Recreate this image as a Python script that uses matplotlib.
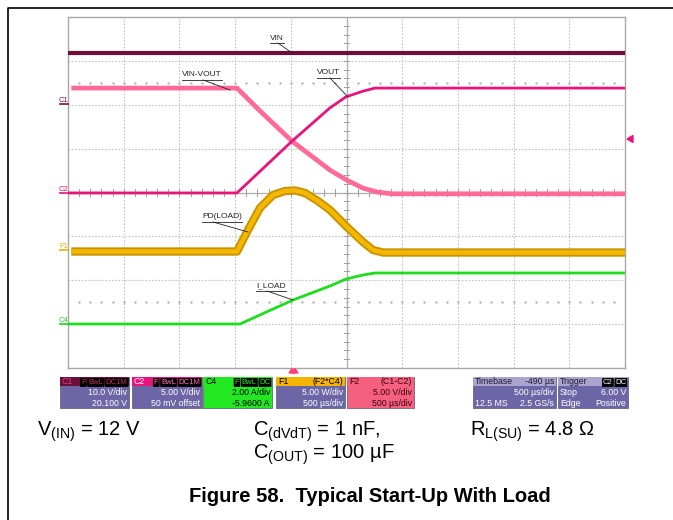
import matplotlib.pyplot as plt
from matplotlib.patches import Rectangle, Polygon

plt.rcParams['font.family'] = ['Liberation Sans', 'DejaVu Sans']
plt.rcParams['mathtext.fontset'] = 'custom'
plt.rcParams['mathtext.rm'] = 'Liberation Sans'
plt.rcParams['mathtext.it'] = 'Liberation Sans:italic'
plt.rcParams['mathtext.bf'] = 'Liberation Sans:bold'

# scope settings
time_per_div = 0.5   # ms / div
trig_div = 4.04      # trigger position, divisions from left edge
n_xdiv, n_ydiv = 10, 8

# traces: time in ms (0 = trigger), level in screen divisions from bottom
vin_t = [-2.02, 2.98]
vin_y = [7.18, 7.18]

vdiff_t = [-1.99, -0.503, -0.297, -0.009, 0.332, 0.484, 0.628, 0.754, 0.888, 2.98]
vdiff_y = [6.38, 6.38, 5.86, 5.17, 4.51, 4.28, 4.10, 4.01, 3.97, 3.97]

vout_t = [-2.02, -0.503, -0.009, 0.332, 0.476, 0.628, 0.736, 2.98]
vout_y = [3.99, 3.99, 5.17, 5.93, 6.18, 6.31, 6.38, 6.38]

pd_t = [-1.99, -0.503, -0.404, -0.297, -0.18, -0.072, 0.018, 0.107, 0.224,
        0.332, 0.484, 0.628, 0.718, 0.808, 2.98]
pd_y = [2.655, 2.655, 3.145, 3.647, 3.943, 4.034, 4.046, 3.989, 3.806,
        3.60, 3.214, 2.872, 2.689, 2.632, 2.632]

iload_t = [-2.02, -0.476, 0.0, 0.332, 0.476, 0.628, 0.736, 2.98]
iload_y = [1.003, 1.003, 1.55, 1.869, 2.028, 2.12, 2.165, 2.165]

# channel info boxes: name, tags, line 2, line 3
box_names = ['C1', 'C2', 'C4', 'F1', 'F2']
box_tags = [['F', 'BwL', 'DC1M'], ['F', 'BwL', 'DC1M'], ['F', 'BwL', 'DC'], ['(F2*C4)'], ['(C1-C2)']]
box_line2 = ['10.0 V/div', '5.00 V/div', '2.00 A/div', '5.00 W/div', '5.00 V/div']
box_line3 = ['20.100 V', '50 mV offset', '-5.9600 A', '500 µs/div', '500 µs/div']

W, H = 673, 520
fig = plt.figure(figsize=(W / 100, H / 100), dpi=100)

# scope screen
L, R, T, B = 68, 625, 17, 368
ax = fig.add_axes([L / W, 1 - B / H, (R - L) / W, (B - T) / H])
t0 = -trig_div * time_per_div
t1 = (n_xdiv - trig_div) * time_per_div
ax.set_xlim(t0, t1)
ax.set_ylim(0, n_ydiv)
ax.set_xticks([])
ax.set_yticks([])
for s in ax.spines.values():
    s.set_color('#a8a8a8')
    s.set_linewidth(1.0)

# overlay in pixel coords, drawn above the screen
bg = fig.add_axes([0, 0, 1, 1])
bg.set_xlim(0, W)
bg.set_ylim(H, 0)
bg.axis('off')
bg.set_zorder(5)
renderer = fig.canvas.get_renderer()

# outer frame
bg.plot([8, 8, W], [H, 8, 8], color='black', lw=1.2)

grid_c = '#c4c4c4'
for k in range(1, n_xdiv):
    ax.axvline(t0 + k * time_per_div, color=grid_c, lw=0.8, ls=(0, (1.5, 1.5)), zorder=0)
for k in range(1, n_ydiv):
    ax.axhline(k, color=grid_c, lw=0.8, ls=(0, (1.5, 1.5)), zorder=0)

# centre cross with minor ticks
tc = t0 + 5 * time_per_div
ax.axvline(tc, color='#b0b0b0', lw=0.9, zorder=0)
ax.axhline(4, color='#b0b0b0', lw=0.9, zorder=0)
for i in range(1, n_ydiv * 5):
    ax.plot([tc - 0.02, tc + 0.02], [i * 0.2, i * 0.2], color='#a0a0a0', lw=0.7, zorder=0)
for i in range(1, n_xdiv * 5):
    tx = t0 + i * 0.2 * time_per_div
    ax.plot([tx, tx], [3.93, 4.07], color='#a0a0a0', lw=0.7, zorder=0)
    ax.plot([tx], [6.5], marker='.', ms=1.2, color='#a8a8a8', zorder=0)
    ax.plot([tx], [1.5], marker='.', ms=1.2, color='#a8a8a8', zorder=0)

# traces
ax.plot(vin_t, vin_y, color='#6e0f3a', lw=3.0, solid_capstyle='butt', zorder=3)
ax.plot(vdiff_t, vdiff_y, color='#ff6b96', lw=3.4, solid_capstyle='butt', zorder=3)
ax.plot(vout_t, vout_y, color='#e8147c', lw=2.0, solid_capstyle='butt', zorder=4)
ax.plot(pd_t, pd_y, color='#c89400', lw=6.0, solid_capstyle='butt', zorder=3)
ax.plot(pd_t, pd_y, color='#f5b800', lw=3.2, solid_capstyle='butt', zorder=3)
ax.plot(iload_t, iload_y, color='#1fdc1f', lw=2.0, solid_capstyle='butt', zorder=3)

# trace labels with leaders (pixel coords)
labels = [('VIN', 270, 39.5, (278, 43), (292, 53)),
          ('VIN-VOUT', 182, 76.5, (203, 80), (230, 90)),
          ('VOUT', 317, 74.5, (330, 78), (348, 97)),
          ('PD(LOAD)', 202, 218.5, (213, 222), (248, 232)),
          ('I_LOAD', 256, 287.5, (267, 291), (293, 300))]
for txt, x0, yb, p0, p1 in labels:
    t = bg.text(x0, yb, txt, fontsize=6, color='#222222', va='baseline', ha='left')
    w = t.get_window_extent(renderer).width
    bg.plot([x0, x0 + w], [yb + 3.5, yb + 3.5], color='#222222', lw=0.6)
    bg.plot([p0[0], p1[0]], [p0[1], p1[1]], color='#222222', lw=0.6)

# channel ground markers
markers = [('C1', 104, '#7a1240'), ('C2', 193, '#e8147c'), ('F1', 250, '#e8b000'), ('C4', 324, '#22cc22')]
for name, yy, col in markers:
    bg.text(59, yy - 2, name, fontsize=5.5, color=col, va='baseline', ha='left')
    bg.plot([60, 68], [yy, yy], color=col, lw=1.2)

# right offset marker and trigger marker
bg.add_patch(Polygon([(627, 139), (633, 135.5), (633, 142.5)], closed=True, color='#e8147c'))
bg.add_patch(Polygon([(289, 373), (292, 368.5), (295, 373)], closed=True, color='#ff4070'))
bg.add_patch(Polygon([(292, 373), (295, 368.5), (298, 373)], closed=True, color='#ff4070'))

# info boxes
body_c = '#6c66a6'
box_x = [(60, 129), (132, 202), (203, 272), (276, 345), (347, 414)]
head_c = ['#6b1038', '#e8147c', '#22e822', '#f5b400', '#f5607e']
head_txt = ['#d0407a', 'white', 'black', 'black', '#3a0010']
tag_txt = ['#c03060', '#ff70b0', '#22e822', 'black', '#3a0010']
body_full = [False, False, True, False, True]
top, bot, hh = 377, 408, 8.5
fs = 6.3
tag_fs = 5.6


def tag_row(x_right, yb, tags, color):
    tx = x_right
    for tag in reversed(tags):
        t = bg.text(tx, yb, tag, fontsize=tag_fs, color=color, va='baseline', ha='right',
                    bbox=dict(boxstyle='round,pad=0.12', fc='black', ec='none'))
        tx -= t.get_window_extent(renderer).width + 2.5


for i, name in enumerate(box_names):
    x0, x1 = box_x[i]
    bc = head_c[i] if body_full[i] else body_c
    bg.add_patch(Rectangle((x0, top), x1 - x0, bot - top, fc=bc, ec='#555577', lw=0.5))
    bg.add_patch(Rectangle((x0, top), x1 - x0, hh, fc=head_c[i], ec='none'))
    bg.text(x0 + 2, top + 7.3, name, fontsize=fs, color=head_txt[i], va='baseline')
    if name in ('F1', 'F2'):
        bg.text(x1 - 2, top + 7.3, box_tags[i][0], fontsize=fs, color=head_txt[i], va='baseline', ha='right')
    else:
        tag_row(x1 - 1.5, top + 7.0, box_tags[i], tag_txt[i])
    txt_c = 'black' if body_full[i] else 'white'
    if name == 'F2':
        txt_c = '#3a0010'
    bg.text(x1 - 2, 395, box_line2[i], fontsize=fs, color=txt_c, va='baseline', ha='right')
    bg.text(x1 - 2, 405.5, box_line3[i], fontsize=fs, color=txt_c, va='baseline', ha='right')

# timebase and trigger boxes
for x0, x1, h1, h2, l2a, l2b, l3a, l3b in [
        (473, 556, 'Timebase', '-490 µs', '', '500 µs/div', '12.5 MS', '2.5 GS/s'),
        (558, 628, 'Trigger', '', 'Stop', '6.00 V', 'Edge', 'Positive')]:
    bg.add_patch(Rectangle((x0, top), x1 - x0, bot - top, fc=body_c, ec='#555577', lw=0.5))
    bg.add_patch(Rectangle((x0, top), x1 - x0, hh, fc='#aaa4cf', ec='none'))
    bg.text(x0 + 2, top + 7.3, h1, fontsize=fs, color='#1a1a33', va='baseline')
    if h2:
        bg.text(x1 - 2, top + 7.3, h2, fontsize=fs, color='#1a1a33', va='baseline', ha='right')
    else:
        tag_row(x1 - 1.5, top + 7.0, ['C2', 'DC'], 'white')
    if l2a:
        bg.text(x0 + 2, 395, l2a, fontsize=fs, color='white', va='baseline')
    bg.text(x1 - 2, 395, l2b, fontsize=fs, color='white', va='baseline', ha='right')
    bg.text(x0 + 2, 405.5, l3a, fontsize=fs, color='white', va='baseline')
    bg.text(x1 - 2, 405.5, l3b, fontsize=fs, color='white', va='baseline', ha='right')

# conditions and caption
cfs = 14.5
bg.text(37, 436, r'V$_\mathregular{(IN)}$ = 12 V', fontsize=cfs, va='baseline')
bg.text(253, 436, r'C$_\mathregular{(dVdT)}$ = 1 nF,', fontsize=cfs, va='baseline')
bg.text(253, 459, r'C$_\mathregular{(OUT)}$ = 100 µF', fontsize=cfs, va='baseline')
bg.text(470, 436, r'R$_\mathregular{L(SU)}$ = 4.8 Ω', fontsize=cfs, va='baseline')
bg.text(370, 502, 'Figure 58.  Typical Start-Up With Load', fontsize=14.5, fontweight='bold',
        va='baseline', ha='center')

fig.savefig('out.png', dpi=100)
